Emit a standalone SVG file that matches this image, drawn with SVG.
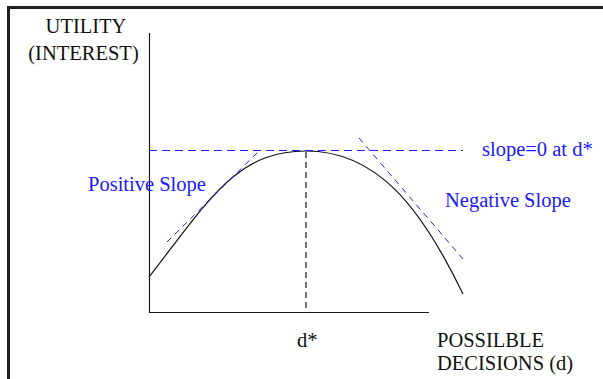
<svg xmlns="http://www.w3.org/2000/svg" width="603" height="379" viewBox="0 0 603 379">
<style>
.t{font-family:"Liberation Serif","Times New Roman",serif;font-size:20.5px;fill:#111}
.b{fill:#1a1aff}
.ax{stroke:#1a1a1a;stroke-width:1.2;fill:none}
.bd{stroke:#2020ff;stroke-width:1;fill:none}
</style>
<rect width="603" height="379" fill="#fff"/>
<g id="frame"><path d="M8.5,379 V7.5 H603" stroke="#231f20" stroke-width="3" fill="none"/></g>
<g id="connectors">
<path class="ax" d="M149.5,33 V312.5 H429"/>
<path d="M149,277 C209,200 236,151 306,151 C376,151 420,205 463,294" stroke="#111" stroke-width="1.2" fill="none"/>
<path class="ax" d="M306,152 V312" stroke-dasharray="6,4" stroke-width="1"/>
<path class="bd" d="M149,150.5 H463" stroke-dasharray="8,5"/>
<path class="bd" d="M167,242 L260,150" stroke-dasharray="6,5"/>
<path class="bd" d="M359,138 L463,259" stroke-dasharray="6,5"/>
</g>
<g id="label-utility"><text class="t" x="86" y="33" text-anchor="middle">UTILITY</text><text class="t" x="83.5" y="60" text-anchor="middle">(INTEREST)</text></g>
<g id="label-positive"><text class="t b" x="88" y="191">Positive Slope</text></g>
<g id="label-zero"><text class="t b" x="482" y="156">slope=0 at d*</text></g>
<g id="label-negative"><text class="t b" x="445" y="207">Negative Slope</text></g>
<g id="label-dstar"><text class="t" x="297" y="347">d*</text></g>
<g id="label-decisions"><text class="t" x="437" y="347">POSSILBLE</text><text class="t" x="437" y="370">DECISIONS (d)</text></g>
</svg>
